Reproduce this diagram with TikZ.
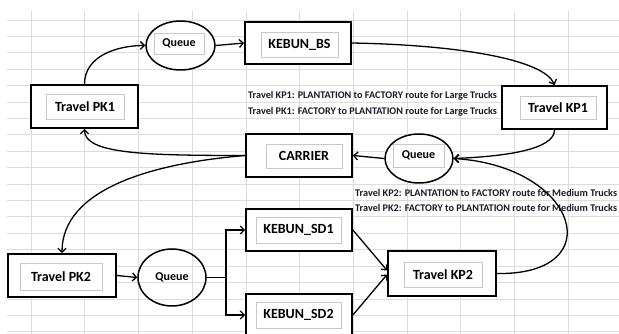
\documentclass[tikz,border=0pt]{standalone}
\usepackage{fontspec}
\setmainfont{Carlito}
\usetikzlibrary{arrows.meta,shapes.geometric}
\definecolor{gridc}{HTML}{DCDCDC}
\definecolor{innerc}{HTML}{C8C8C8}
\definecolor{notec}{HTML}{1A1A2A}
\tikzset{
 outerbox/.style={draw=black, line width=1.8pt, fill=white, inner sep=0pt},
 innerbox/.style={draw=innerc, line width=0.8pt, fill=white, inner sep=0pt, font=\bfseries\fontsize{14}{16}\selectfont},
 qell/.style={ellipse, draw=black, line width=1.5pt, inner sep=0pt},
 qbox/.style={draw=innerc, line width=0.8pt, fill=white, inner sep=0pt, font=\bfseries\fontsize{12}{14}\selectfont},
 qtext/.style={inner sep=0pt, font=\bfseries\fontsize{12}{14}\selectfont},
 conn/.style={draw=black, line width=1.3pt, -{Straight Barb[length=4pt,width=8pt]}},
 plain/.style={draw=black, line width=1.3pt},
 note/.style={anchor=west, inner sep=0pt, font=\bfseries\fontsize{10.2}{12}\selectfont, text=notec},
 gridline/.style={draw=gridc, line width=0.6pt}
}
\begin{document}
\begin{tikzpicture}[x=1pt,y=-1pt]
\useasboundingbox (0,0) rectangle (619,334);
\fill[white] (0,0) rectangle (619,334);
% spreadsheet grid
\foreach \k in {0,...,19} \draw[gridline] (7,20+16.4*\k) -- (619,20+16.4*\k);
\foreach \k in {0,...,10} \draw[gridline] (31+53.7*\k,11) -- (31+53.7*\k,334);

% boxes
\node[outerbox, minimum width=107pt, minimum height=43pt] (pk1) at (84.5,106.5) {};
\node[innerbox, minimum width=78pt, minimum height=25pt] (pk1t) at (85,106.5) {Travel PK1};

\node[outerbox, minimum width=106pt, minimum height=42pt] (kbs) at (298,43) {};
\node[innerbox, minimum width=77pt, minimum height=25pt] (kbst) at (299.5,44.5) {KEBUN\_BS};

\node[outerbox, minimum width=105pt, minimum height=43pt] (kp1) at (554.5,107.5) {};
\node[innerbox, minimum width=76pt, minimum height=23pt] (kp1t) at (558,107.5) {Travel KP1};

\node[outerbox, minimum width=106pt, minimum height=43pt] (carrier) at (299,155.5) {};
\node[innerbox, minimum width=76pt, minimum height=24pt] (carriert) at (304,156) {CARRIER};

\node[outerbox, minimum width=108pt, minimum height=43pt] (pk2) at (62,275.5) {};
\node[innerbox, minimum width=82pt, minimum height=27pt] (pk2t) at (61,276.5) {Travel PK2};

\node[outerbox, minimum width=106pt, minimum height=42pt] (sd1) at (299,230) {};
\node[innerbox, minimum width=85pt, minimum height=26pt] (sd1t) at (298.5,230) {KEBUN\_SD1};

\node[outerbox, minimum width=106pt, minimum height=42pt] (sd2) at (299,315) {};
\node[innerbox, minimum width=85pt, minimum height=26pt] (sd2t) at (298.5,315) {KEBUN\_SD2};

\node[outerbox, minimum width=108pt, minimum height=45pt] (kp2) at (442,273.5) {};
\node[innerbox, minimum width=78pt, minimum height=25pt] (kp2t) at (443,274.5) {Travel KP2};

% queues
\node[qell, fill=white, minimum width=69pt, minimum height=49pt] (q1) at (180.5,45.5) {};
\node[qbox, minimum width=50pt, minimum height=21pt] (q1t) at (179,43.5) {Queue};

\node[qell, fill=white, minimum width=68pt, minimum height=49pt] (q2) at (419,158.5) {};
\node[qbox, minimum width=51pt, minimum height=23pt] (q2t) at (418.5,155.5) {Queue};

\node[qell, minimum width=68pt, minimum height=57pt] (q3) at (172,277.5) {};
\node[qtext] (q3t) at (172,277.5) {Queue};

% notes
\node[note] (n1) at (248,96) {Travel KP1: PLANTATION to FACTORY route for Large Trucks};
\node[note] (n2) at (248,112) {Travel PK1: FACTORY to PLANTATION route for Large Trucks};
\node[note] (n3) at (355,193) {Travel KP2: PLANTATION to FACTORY route for Medium Trucks};
\node[note] (n4) at (355,208) {Travel PK2: FACTORY to PLANTATION route for Medium Trucks};

% connectors
\draw[conn] (pk1.north) to[out=90,in=180] (q1.west);
\draw[conn] (q1.east) -- (kbs.west);
\draw[conn] (kbs.east) .. controls +(110,2) and +(-10,-25) .. (kp1.north);
\draw[conn] (kp1.south) .. controls +(0,20) and +(50,-2) .. (q2.east);
\draw[conn] (kp2.east) .. controls +(114,2) and +(125,8) .. (q2.east);
\draw[conn] (q2.west) -- (carrier.east);
\draw[conn] (carrier.west) .. controls +(-100,0) and +(0,25) .. (pk1.south);
\draw[conn] (carrier.west) .. controls +(-96,8) and +(0,-63) .. (pk2.north);
\draw[conn] (pk2.east) -- (q3.west);
\coordinate (fork) at (226,277.5);
\draw[plain] (q3.east) -- (fork);
\draw[conn] (fork) |- (sd1.west);
\draw[conn] (fork) |- (sd2.west);
\draw[conn] (sd1.east) -- ([yshift=3pt]kp2.west);
\draw[conn] (sd2.east) -- ([yshift=-1pt]kp2.west);
\end{tikzpicture}
\end{document}
